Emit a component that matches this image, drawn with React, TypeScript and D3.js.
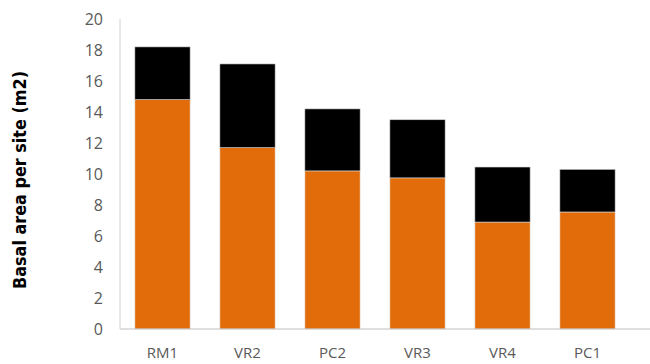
import React from "react";
import * as d3 from "d3";

const sites = ["RM1", "VR2", "PC2", "VR3", "VR4", "PC1"];
const lower = [14.8, 11.7, 10.2, 9.75, 6.9, 7.55];
const upper = [3.4, 5.4, 4.0, 3.75, 3.55, 2.75];
const yTicks = [0, 2, 4, 6, 8, 10, 12, 14, 16, 18, 20];

const W = 650;
const H = 364;
const left = 120;
const right = 630;
const top = 19;
const bottom = 329;

export default function App() {
  const x = d3.scaleBand<string>().domain(sites).range([left, right]).paddingInner(0.35).paddingOuter(0.175);
  const y = d3.scaleLinear().domain([0, 20]).range([bottom, top]);

  const stacked = sites.map((s, i) => ({ s, a: lower[i], b: lower[i] + upper[i] }));

  return (
    <svg width={W} height={H} style={{ position: "absolute", left: 0, top: 0, background: "#fff" }}>
      <g>
        {stacked.map(d => (
          <g key={d.s}>
            <rect x={x(d.s)} y={y(d.a)} width={x.bandwidth()} height={y(0) - y(d.a)}
              fill="#E36C0A" stroke="#e8e8e8" strokeWidth={0.6} />
            <rect x={x(d.s)} y={y(d.b)} width={x.bandwidth()} height={y(d.a) - y(d.b)}
              fill="#000" stroke="#cfcfcf" strokeWidth={0.6} />
          </g>
        ))}
      </g>
      <line x1={left} x2={W} y1={bottom} y2={bottom} stroke="#bfbfbf" strokeWidth={1} />
      <line x1={left} x2={left} y1={top} y2={bottom} stroke="#d0d0d0" strokeWidth={1} />
      {yTicks.map(t => (
        <text key={t} x={103} y={y(t)} dy="0.36em" textAnchor="end" fontSize={16}
          fontFamily="'Open Sans', 'Liberation Sans', sans-serif" fill="#595959">{t}</text>
      ))}
      {sites.map(s => (
        <text key={s} x={(x(s) as number) + x.bandwidth() / 2} y={358} textAnchor="middle" fontSize={15}
          fontFamily="'Open Sans', 'Liberation Sans', sans-serif" fill="#595959">{s}</text>
      ))}
      <text transform={`translate(26,${(top + bottom) / 2 + 6}) rotate(-90)`} textAnchor="middle"
        fontSize={18} fontWeight="bold" fontFamily="'Liberation Sans Narrow', 'DejaVu Sans Condensed', sans-serif"
        fill="#000" textLength={218} lengthAdjust="spacingAndGlyphs">Basal area per site (m2)</text>
    </svg>
  );
}
